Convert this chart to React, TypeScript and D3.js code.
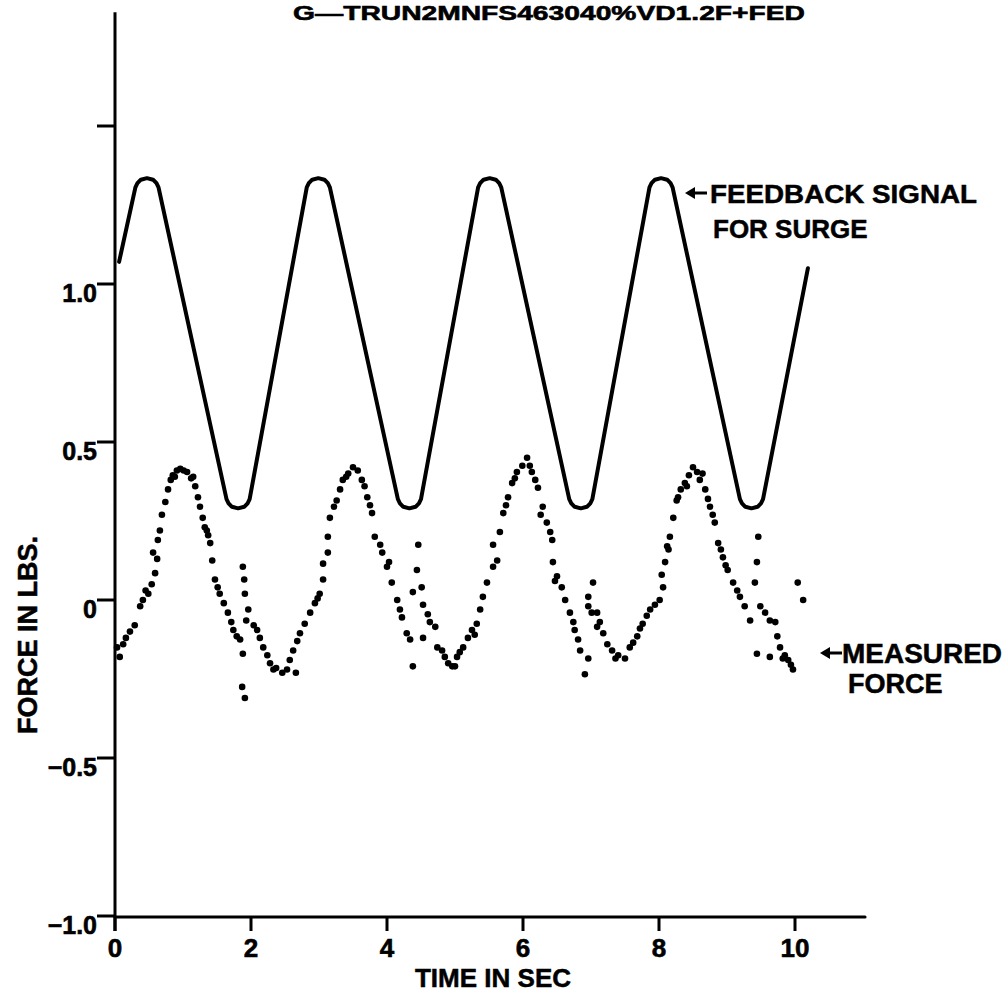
import React from "react";
import * as d3 from "d3";

// ---- Data ----
const titleText = "G\u2014TRUN2MNFS463040%VD1.2F+FED";
const xTicks = [0, 2, 4, 6, 8, 10];
const xTickLabels = ["0", "2", "4", "6", "8", "10"];
const yTicks = [1.5, 1.0, 0.5, 0, -0.5, -1.0];
const yTickLabels = ["", "1.0", "0.5", "0", "\u22120.5", "\u22121.0"];

// Feedback signal (time s, force lbs) – straight ramps with rounded tips
const feedbackT = [
  0.06,
  0.3, 0.33, 0.38, 0.47, 0.56, 0.61, 0.64,
  1.64, 1.67, 1.72, 1.81, 1.9, 1.95, 1.98,
  2.82, 2.85, 2.9, 2.99, 3.08, 3.13, 3.16,
  4.16, 4.19, 4.24, 4.33, 4.42, 4.47, 4.5,
  5.34, 5.37, 5.42, 5.51, 5.6, 5.65, 5.68,
  6.68, 6.71, 6.76, 6.85, 6.94, 6.99, 7.02,
  7.86, 7.89, 7.94, 8.03, 8.12, 8.17, 8.2,
  9.19, 9.22, 9.27, 9.36, 9.45, 9.5, 9.53,
  10.19,
];
const feedbackV = [
  1.07,
  1.306, 1.319, 1.33, 1.335, 1.33, 1.319, 1.306,
  0.319, 0.306, 0.295, 0.29, 0.295, 0.306, 0.319,
  1.306, 1.319, 1.33, 1.335, 1.33, 1.319, 1.306,
  0.319, 0.306, 0.295, 0.29, 0.295, 0.306, 0.319,
  1.306, 1.319, 1.33, 1.335, 1.33, 1.319, 1.306,
  0.319, 0.306, 0.295, 0.29, 0.295, 0.306, 0.319,
  1.306, 1.319, 1.33, 1.335, 1.33, 1.319, 1.306,
  0.319, 0.306, 0.295, 0.29, 0.295, 0.306, 0.319,
  1.05,
];

// Measured force samples (time s, force lbs)
const measT = [
  0.07, 0.03, 0.12, 0.22, 0.29, 0.37, 0.41, 0.49, 0.54, 0.59, 0.56, 0.63, 0.66, 0.69, 0.74, 0.78, 0.82, 0.85, 0.91, 0.96,
  1.01, 1.06, 1.12, 1.18, 1.22, 1.25, 1.29, 1.32, 1.37, 1.40, 1.43, 1.47, 1.51, 1.54, 1.60, 1.66, 1.71, 1.74, 1.79, 1.84,
  1.88, 1.88, 1.90, 1.91, 1.96, 1.93, 1.87, 1.91, 2.04, 2.09, 2.13, 2.18, 2.24, 2.28, 2.37, 2.46, 2.53, 2.57, 2.62, 2.68,
  2.72, 2.79, 2.87, 2.94, 3.01, 3.06, 3.06, 3.13, 3.13, 3.16, 3.22, 3.26, 3.31, 3.35, 3.43, 3.50, 3.57, 3.63, 3.71, 3.75,
  3.78, 3.82, 3.90, 3.93, 4.00, 4.07, 4.15, 4.19, 4.22, 4.29, 4.34, 4.38, 4.46, 4.44, 4.38, 4.51, 4.53, 4.60, 4.63, 4.71,
  4.53, 4.74, 4.81, 4.85, 4.90, 4.96, 5.03, 5.07, 5.12, 5.19, 5.25, 5.32, 5.37, 5.41, 5.47, 5.56, 5.62, 5.56, 5.66, 5.71,
  5.75, 5.78, 5.84, 5.91, 5.99, 6.06, 6.10, 6.13, 6.18, 6.22, 6.29, 6.35, 6.40, 6.43, 6.44, 6.50, 6.57, 6.62, 6.69, 6.74,
  6.76, 6.81, 6.84, 6.96, 6.91, 7.03, 6.96, 6.96, 7.01, 7.09, 7.09, 7.13, 7.18, 7.24, 7.31, 7.40, 7.50, 7.57, 7.62, 7.68,
  7.76, 7.82, 7.87, 7.94, 8.01, 8.06, 8.04, 8.09, 8.12, 8.16, 8.21, 8.26, 8.28, 8.32, 8.38, 8.44, 8.50, 8.56, 8.60, 8.68,
  8.72, 8.75, 8.79, 8.82, 8.87, 8.91, 8.94, 9.01, 9.09, 9.15, 9.19, 9.26, 9.34, 9.44, 9.49, 9.56, 9.63, 9.71, 9.74, 9.78,
  9.63, 9.85, 9.90, 9.94, 9.97, 9.46, 9.44, 9.41, 10.04, 10.12,
  0.16, 0.45, 0.62, 0.88, 1.15, 1.35, 2.33, 2.66, 2.98, 3.40, 3.67, 4.03, 5.00, 5.29, 5.88, 6.26, 6.47, 7.36, 7.72, 8.14, 8.41, 8.64, 8.98, 9.82,
];
const measV = [
  -0.18, -0.15, -0.14, -0.10, -0.08, -0.02, 0.0, 0.02, 0.05, 0.085, 0.15, 0.19, 0.22, 0.27, 0.31, 0.35, 0.38, 0.395, 0.41, 0.415,
  0.41, 0.405, 0.385, 0.36, 0.325, 0.295, 0.26, 0.23, 0.205, 0.18, 0.125, 0.065, 0.04, 0.02, -0.01, -0.04, -0.07, -0.095, -0.115, -0.125,
  -0.17, 0.105, 0.065, 0.02, -0.03, -0.065, -0.275, -0.31, -0.08, -0.095, -0.12, -0.15, -0.175, -0.2, -0.215, -0.23, -0.22, -0.19, -0.16, -0.13,
  -0.105, -0.075, -0.04, -0.01, 0.02, 0.065, 0.115, 0.15, 0.2, 0.26, 0.295, 0.315, 0.35, 0.38, 0.40, 0.42, 0.41, 0.38, 0.325, 0.30,
  0.275, 0.2, 0.175, 0.15, 0.105, 0.055, 0.0, -0.03, -0.055, -0.105, -0.125, -0.21, 0.175, 0.095, 0.025, 0.04, -0.015, -0.045, -0.07, -0.085,
  -0.12, -0.15, -0.16, -0.18, -0.2, -0.21, -0.18, -0.165, -0.15, -0.12, -0.095, -0.075, -0.03, 0.01, 0.055, 0.105, 0.125, 0.175, 0.215, 0.275,
  0.30, 0.325, 0.37, 0.405, 0.425, 0.45, 0.425, 0.405, 0.38, 0.355, 0.295, 0.245, 0.215, 0.19, 0.12, 0.075, 0.04, 0.0, -0.04, -0.07,
  -0.095, -0.125, -0.16, -0.185, -0.235, 0.055, 0.01, -0.02, -0.04, -0.04, -0.085, -0.07, -0.105, -0.14, -0.16, -0.175, -0.185, -0.15, -0.135, -0.115,
  -0.075, -0.05, -0.03, -0.015, 0.0, 0.04, 0.08, 0.12, 0.17, 0.2, 0.26, 0.315, 0.325, 0.35, 0.37, 0.395, 0.42, 0.405, 0.38, 0.35,
  0.32, 0.295, 0.27, 0.245, 0.18, 0.16, 0.135, 0.095, 0.055, 0.03, 0.01, -0.02, -0.065, -0.17, -0.02, -0.04, -0.065, -0.07, -0.115, -0.15,
  -0.18, -0.175, -0.19, -0.205, -0.22, 0.2, 0.12, 0.055, 0.055, 0.0,
  -0.12, 0.03, 0.13, 0.39, 0.39, 0.22, -0.22, -0.23, 0.005, 0.39, 0.36, 0.12, -0.21, -0.11, 0.385, 0.27, 0.06, -0.185, -0.09, 0.16, 0.36, 0.40, 0.11, -0.185,
];

const W = 1008;
const H = 995;
const FONT = "'Liberation Sans', Arial, Helvetica, sans-serif";

export default function App() {
  const x = d3.scaleLinear().domain([0, 10]).range([115, 795]);
  const y = d3.scaleLinear().domain([-1, 1]).range([916, 284]);
  const axisY = y(-1) + 1;
  const xEnd = x(11.03);
  const yTop = y(1.86);

  const fbPts: [number, number][] = feedbackT.map((t, i) => [t, feedbackV[i]]);
  const line = d3
    .line<[number, number]>()
    .x((d) => x(d[0]))
    .y((d) => y(d[1]))
    .curve(d3.curveLinear);

  const arrow = (x0: number, yc: number) => (
    <g>
      <path d={`M${x0},${yc} L${x0 + 10},${yc - 6} L${x0 + 10},${yc + 6} Z`} fill="#000" />
      <line x1={x0 + 8} x2={x0 + 22} y1={yc} y2={yc} stroke="#000" strokeWidth={3} />
    </g>
  );

  return (
    <svg
      width={W}
      height={H}
      style={{ position: "absolute", left: 0, top: 0, background: "#fff" }}
      fontFamily={FONT}
      fontWeight="bold"
    >
      <rect x={0} y={0} width={W} height={H} fill="#fff" />
      {/* Title */}
      <text x={293} y={20} fontSize={21} textLength={512} lengthAdjust="spacingAndGlyphs" fill="#000" stroke="#000" strokeWidth={0.6}>
        {titleText}
      </text>

      {/* Axes */}
      <line x1={115} x2={115} y1={yTop} y2={axisY + 14} stroke="#000" strokeWidth={3} />
      <line x1={115} x2={xEnd} y1={axisY} y2={axisY} stroke="#000" strokeWidth={3} strokeLinecap="round" />

      {yTicks.map((v, i) => (
        <g key={"yt" + i}>
          <line x1={97} x2={115} y1={y(v)} y2={y(v)} stroke="#000" strokeWidth={3} />
          {yTickLabels[i] && (
            <text x={97} y={y(v) + 9} fontSize={25} textAnchor="end" dominantBaseline="central" fill="#000" stroke="#000" strokeWidth={0.6}>
              {yTickLabels[i]}
            </text>
          )}
        </g>
      ))}

      {xTicks.map((t, i) => (
        <g key={"xt" + i}>
          <line x1={x(t)} x2={x(t)} y1={axisY} y2={axisY + 14} stroke="#000" strokeWidth={3} />
          <text x={x(t)} y={957} fontSize={26} textAnchor="middle" fill="#000" stroke="#000" strokeWidth={0.6}>
            {xTickLabels[i]}
          </text>
        </g>
      ))}

      {/* Axis labels */}
      <text x={493} y={987} fontSize={26} textAnchor="middle" fill="#000" stroke="#000" strokeWidth={0.5}>
        TIME IN SEC
      </text>
      <text
        transform={`translate(37,635) rotate(-90)`}
        fontSize={27}
        textAnchor="middle"
        fill="#000"
        stroke="#000"
        strokeWidth={0.5}
      >
        FORCE IN LBS.
      </text>

      {/* Feedback signal */}
      <path d={line(fbPts) || ""} fill="none" stroke="#000" strokeWidth={4} strokeLinecap="round" strokeLinejoin="round" />

      {/* Measured force */}
      {measT.map((t, i) => (
        <circle key={"m" + i} cx={x(t)} cy={y(measV[i])} r={3.3} fill="#000" />
      ))}

      {/* Annotations */}
      {arrow(685, 193)}
      <text x={710} y={203} fontSize={26} fill="#000" stroke="#000" strokeWidth={0.5} textLength={267} lengthAdjust="spacingAndGlyphs">
        FEEDBACK SIGNAL
      </text>
      <text x={713} y={238} fontSize={26} fill="#000" stroke="#000" strokeWidth={0.5}>
        FOR SURGE
      </text>
      {arrow(820, 653)}
      <text x={842} y={663} fontSize={27} fill="#000" stroke="#000" strokeWidth={0.5} textLength={160} lengthAdjust="spacingAndGlyphs">
        MEASURED
      </text>
      <text x={848} y={693} fontSize={27} fill="#000" stroke="#000" strokeWidth={0.5}>
        FORCE
      </text>
    </svg>
  );
}
